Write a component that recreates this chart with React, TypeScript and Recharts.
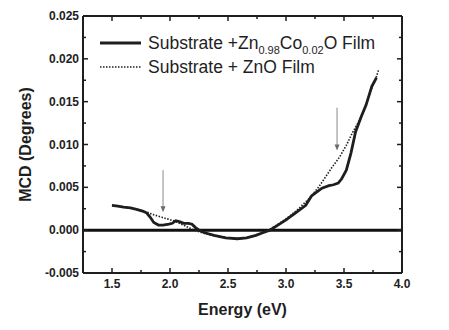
import { LineChart, Line, XAxis, YAxis, ReferenceLine, Legend, Label } from 'recharts';

// Substrate + Zn0.98Co0.02O film (solid)
const coEnergy = [
  1.5, 1.55, 1.6, 1.66, 1.72, 1.77, 1.8, 1.83, 1.86, 1.9, 1.94, 1.99, 2.02, 2.05, 2.08, 2.12, 2.16,
  2.19, 2.22, 2.25, 2.3, 2.38, 2.48, 2.58, 2.66, 2.74, 2.8, 2.86, 2.92, 3.0, 3.08, 3.17, 3.22, 3.31,
  3.37, 3.41, 3.45, 3.48, 3.52, 3.56, 3.6, 3.65, 3.69, 3.74, 3.78,
];
const coMcd = [
  0.0029, 0.0028, 0.0027, 0.0026, 0.0024, 0.0022, 0.002, 0.0015, 0.0009, 0.0006, 0.0006, 0.0007,
  0.0008, 0.0011, 0.001, 0.0008, 0.0008, 0.0007, 0.0003, 0.0, -0.0003, -0.0006, -0.0009, -0.001,
  -0.0009, -0.0006, -0.0003, 0.0, 0.0005, 0.0012, 0.002, 0.0029, 0.004, 0.0049, 0.0052, 0.0053,
  0.0055, 0.006, 0.007, 0.009, 0.0115, 0.0133, 0.0146, 0.0168, 0.0178,
];

// Substrate + ZnO film (dotted)
const znoEnergy = [
  1.5, 1.6, 1.72, 1.8, 1.86, 1.93, 2.03, 2.1, 2.16, 2.21, 2.3, 2.4, 2.5, 2.6, 2.7, 2.78, 2.85, 2.92,
  3.0, 3.1, 3.2, 3.28, 3.34, 3.4, 3.46, 3.52, 3.57, 3.62, 3.66, 3.7, 3.73, 3.77, 3.8,
];
const znoMcd = [
  0.0029, 0.0027, 0.0024, 0.0021, 0.0018, 0.0015, 0.0011, 0.0007, 0.0003, 0.0, -0.0004, -0.0007,
  -0.0009, -0.001, -0.0008, -0.0004, 0.0, 0.0006, 0.0013, 0.0024, 0.0037, 0.005, 0.0062, 0.0074,
  0.0085, 0.0099, 0.0113, 0.0125, 0.0136, 0.015, 0.0163, 0.0175, 0.0188,
];

const energyTicks = [1.5, 1.75, 2.0, 2.25, 2.5, 2.75, 3.0, 3.25, 3.5, 3.75, 4.0];
const mcdTicks = [-0.005, -0.0025, 0, 0.0025, 0.005, 0.0075, 0.01, 0.0125, 0.015, 0.0175, 0.02, 0.0225, 0.025];

// arrows pointing at the features
const arrowEnergy = [1.94, 3.44];
const arrowFrom = [0.007, 0.0143];
const arrowTo = [0.0021, 0.0093];

const coData = coEnergy.map((x, i) => ({ x, y: coMcd[i] }));
const znoData = znoEnergy.map((x, i) => ({ x, y: znoMcd[i] }));

const FONT = '"Liberation Sans", Arial, Helvetica, sans-serif';
const INK = '#1e1e1e';

const majorX = (v: number) => Math.abs(v * 2 - Math.round(v * 2)) < 1e-6;
const majorY = (v: number) => Math.abs(v * 200 - Math.round(v * 200)) < 1e-6;

const BottomTick = ({ x, y, payload }: any) => {
  const major = majorX(payload.value);
  return (
    <g>
      <line x1={x} x2={x} y1={y} y2={y - (major ? 5 : 3)} stroke={INK} strokeWidth={1.5} />
      {major && (
        <text x={x} y={y + 15} textAnchor="middle" fontFamily={FONT} fontWeight="bold" fontSize={12} fill={INK}>
          {payload.value.toFixed(1)}
        </text>
      )}
    </g>
  );
};

const TopTick = ({ x, y, payload }: any) => (
  <line x1={x} x2={x} y1={y} y2={y + (majorX(payload.value) ? 5 : 3)} stroke={INK} strokeWidth={1.5} />
);

const LeftTick = ({ x, y, payload }: any) => {
  const major = majorY(payload.value);
  return (
    <g>
      <line x1={x} x2={x + (major ? 5 : 3)} y1={y} y2={y} stroke={INK} strokeWidth={1.5} />
      {major && (
        <text x={x - 4} y={y + 4} textAnchor="end" fontFamily={FONT} fontWeight="bold" fontSize={12} fill={INK}>
          {payload.value.toFixed(3)}
        </text>
      )}
    </g>
  );
};

const RightTick = ({ x, y, payload }: any) => (
  <line x1={x} x2={x - (majorY(payload.value) ? 5 : 3)} y1={y} y2={y} stroke={INK} strokeWidth={1.5} />
);

const Arrow = (props: any) => {
  const { x1, y1, x2, y2 } = props;
  return (
    <g>
      <line x1={x1} y1={y1} x2={x2} y2={y2 - 4} stroke="#8a8a8a" strokeWidth={1} />
      <polygon points={`${x2 - 2.5},${y2 - 6} ${x2 + 2.5},${y2 - 6} ${x2},${y2}`} fill="#6a6a6a" />
    </g>
  );
};

const sub = { fontSize: 11, position: 'relative' as const, top: 5, lineHeight: 0 };

const LegendBox = () => (
  <div style={{ fontFamily: FONT, fontSize: 17.5, color: INK, lineHeight: '24px' }}>
    <div style={{ display: 'flex', alignItems: 'center' }}>
      <svg width={48} height={10}>
        <line x1={0} x2={41} y1={5} y2={5} stroke={INK} strokeWidth={2.8} />
      </svg>
      <span>
        Substrate +Zn<span style={sub}>0.98</span>Co<span style={sub}>0.02</span>O Film
      </span>
    </div>
    <div style={{ display: 'flex', alignItems: 'center' }}>
      <svg width={48} height={10}>
        <line x1={0} x2={41} y1={5} y2={5} stroke={INK} strokeWidth={1.5} strokeDasharray="1.5 1.5" />
      </svg>
      <span>Substrate + ZnO Film</span>
    </div>
  </div>
);

export default function App() {
  return (
    <LineChart width={441} height={322} margin={{ top: 0, right: 37, bottom: 17, left: 20 }}>
      <XAxis
        dataKey="x"
        type="number"
        domain={[1.25, 4]}
        ticks={energyTicks}
        interval={0}
        allowDataOverflow
        height={40}
        tickSize={0}
        tickMargin={0}
        tick={BottomTick}
        axisLine={{ stroke: INK, strokeWidth: 2 }}
      >
        <Label
          content={({ viewBox }: any) => (
            <text
              x={viewBox.x + viewBox.width / 2}
              y={viewBox.y + 42}
              textAnchor="middle"
              fontFamily={FONT}
              fontWeight="bold"
              fontSize={16}
              fill={INK}
            >
              Energy (eV)
            </text>
          )}
        />
      </XAxis>
      <XAxis
        xAxisId="top"
        orientation="top"
        dataKey="x"
        type="number"
        domain={[1.25, 4]}
        ticks={energyTicks}
        interval={0}
        allowDataOverflow
        height={8}
        tickSize={0}
        tickMargin={0}
        tick={TopTick}
        axisLine={{ stroke: INK, strokeWidth: 2 }}
      />
      <YAxis
        type="number"
        domain={[-0.005, 0.025]}
        ticks={mcdTicks}
        interval={0}
        allowDataOverflow
        width={55}
        tickSize={0}
        tickMargin={0}
        tick={LeftTick}
        axisLine={{ stroke: INK, strokeWidth: 2 }}
      >
        <Label
          content={({ viewBox }: any) => {
            const cx = viewBox.x - 3;
            const cy = viewBox.y + viewBox.height / 2;
            return (
              <text
                x={cx}
                y={cy}
                transform={`rotate(-90 ${cx} ${cy})`}
                textAnchor="middle"
                dominantBaseline="central"
                fontFamily={FONT}
                fontWeight="bold"
                fontSize={16}
                fill={INK}
              >
                MCD (Degrees)
              </text>
            );
          }}
        />
      </YAxis>
      <YAxis
        yAxisId="right"
        orientation="right"
        type="number"
        domain={[-0.005, 0.025]}
        ticks={mcdTicks}
        interval={0}
        allowDataOverflow
        width={10}
        tickSize={0}
        tickMargin={0}
        tick={RightTick}
        axisLine={{ stroke: INK, strokeWidth: 2 }}
      />
      <ReferenceLine y={0} stroke="#111" strokeWidth={3} />
      {arrowEnergy.map((e, i) => (
        <ReferenceLine
          key={e}
          segment={[
            { x: e, y: arrowFrom[i] },
            { x: e, y: arrowTo[i] },
          ]}
          shape={Arrow}
        />
      ))}
      <Line
        data={znoData}
        dataKey="y"
        name="Substrate + ZnO Film"
        stroke={INK}
        strokeWidth={1.6}
        strokeDasharray="1.5 1.5"
        dot={false}
        type="linear"
        isAnimationActive={false}
      />
      <Line
        data={coData}
        dataKey="y"
        name="Substrate +Zn0.98Co0.02O Film"
        stroke={INK}
        strokeWidth={2.8}
        dot={false}
        type="linear"
        isAnimationActive={false}
      />
      <Legend
        layout="vertical"
        align="center"
        verticalAlign="middle"
        content={LegendBox}
        wrapperStyle={{ left: 92, top: 23, width: 300 }}
      />
    </LineChart>
  );
}
